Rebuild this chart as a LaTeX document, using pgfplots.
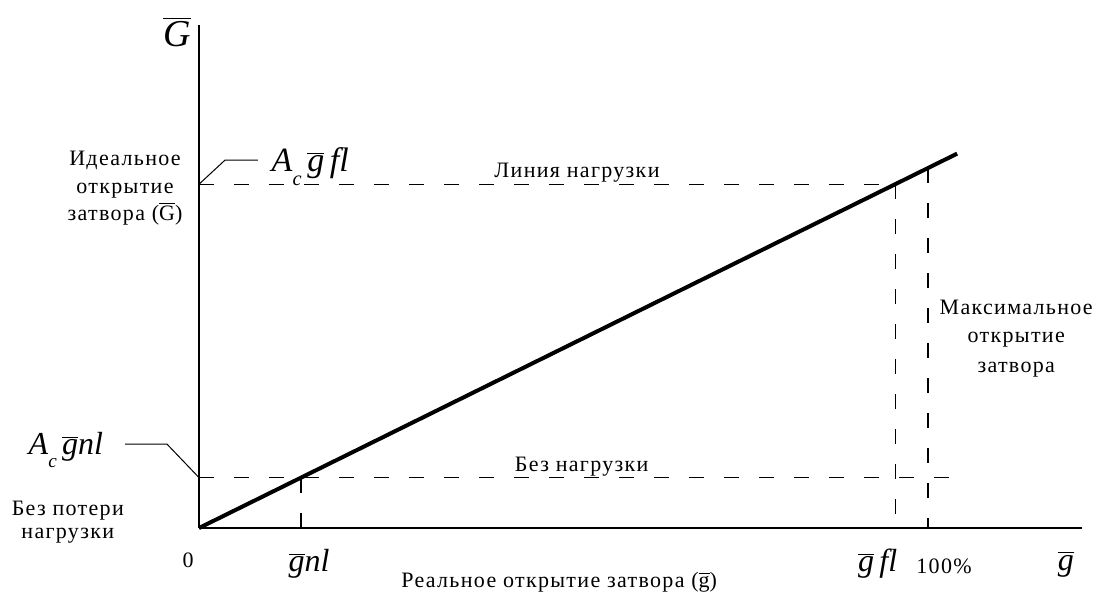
\documentclass[border=0pt]{standalone}
\usepackage{pgfplots}
\pgfplotsset{compat=1.18}
\usepackage{fontspec}
\setmainfont{Liberation Serif}
\newfontfamily\spaced[LetterSpace=6]{Liberation Serif}

% overlined symbol in the text font
\newcommand\ol[1]{\ensuremath{\overline{\mbox{#1}}}}
% italic A with subscript c
\newcommand\Ac{\textit{A}\raisebox{-0.4em}{\scalebox{0.6}{\textit{c}}}}

\tikzset{
  txt/.style={font=\spaced\fontsize{11}{13}\selectfont},
  sym/.style={font=\fontsize{#1}{#1}\selectfont},
  dashline/.style={line width=0.7pt, dash pattern=on 7.5pt off 10pt},
}

\begin{document}
\begin{tikzpicture}
\begin{axis}[
  x=3.645pt, y=1.8pt,
  xmin=0, xmax=121.1, ymin=0, ymax=139.7,
  axis lines=left,
  axis line style={-, line width=0.6pt},
  ticks=none,
  clip=false,
]
% frame of the whole figure
\path (axis cs:-27.30,-17.78) rectangle (axis cs:123.73,146.67);

% heavier part of the g axis and of the G axis
\draw[line width=1pt] (axis cs:0,0) -- (axis cs:104.8,0);
\draw[line width=1pt] (axis cs:0,0) -- (axis cs:0,139.7);

% guide lines
\addplot[dashline] coordinates {(0,95.5) (95.5,95.5)};
\addplot[dashline] coordinates {(0,14) (104.8,14)};
\addplot[dashline] coordinates {(14,14) (14,0)};
\addplot[dashline] coordinates {(95.5,95.5) (95.5,0)};
\addplot[dashline] coordinates {(100,100) (100,0)};

% load line G = A_c g
\addplot[line width=2pt, black] coordinates {(0,0) (104,104)};

% callouts
\addplot[line width=0.5pt] coordinates {(0,95.5) (3.57,102.2) (8.09,102.2)};
\addplot[line width=0.5pt] coordinates {(0,14) (-4.39,23.3) (-10.15,23.3)};

% symbols
\node[sym=19] at (axis cs:-3.0,137.8) {\ol{\textit{G}}};
\node[anchor=base west, sym=17] at (axis cs:9.0,98.9)
  {\Ac\,\ol{\textit{g}}\,\textit{fl}};
\node[anchor=base east, sym=16] at (axis cs:-12.2,20.3)
  {\Ac\,\ol{\textit{g}}\textit{nl}};
\node[anchor=base, sym=16] at (axis cs:15.1,-12.2) {\ol{\textit{g}}\textit{nl}};
\node[anchor=base, sym=16] at (axis cs:93.1,-12.2) {\ol{\textit{g}}\,\textit{fl}};
\node[anchor=base, sym=16] at (axis cs:118.9,-11.7) {\ol{\textit{g}}};
\node[txt] at (axis cs:-1.5,-8.9) {0};
\node[txt, anchor=base] at (axis cs:102.2,-12.5) {100\%};

% descriptive labels
\node[txt, anchor=base] at (axis cs:-10.15,100.8) {Идеальное};
\node[txt, anchor=base] at (axis cs:-10.15,93.0) {открытие};
\node[txt, anchor=base] at (axis cs:-10.15,85.3) {затвора (\ol{G})};

\node[txt, anchor=base] at (axis cs:51.85,97.5) {Линия нагрузки};
\node[txt, anchor=base] at (axis cs:52.5,15.6) {Без нагрузки};

\node[txt, anchor=base] at (axis cs:112.1,59.2) {Максимальное};
\node[txt, anchor=base] at (axis cs:112.1,51.4) {открытие};
\node[txt, anchor=base] at (axis cs:112.1,43.3) {затвора};

\node[txt, anchor=base] at (axis cs:-18.0,3.6) {Без потери};
\node[txt, anchor=base] at (axis cs:-18.0,-2.8) {нагрузки};

\node[txt, anchor=base] at (axis cs:49.4,-16.4) {Реальное открытие затвора (\ol{g})};
\end{axis}
\end{tikzpicture}
\end{document}
